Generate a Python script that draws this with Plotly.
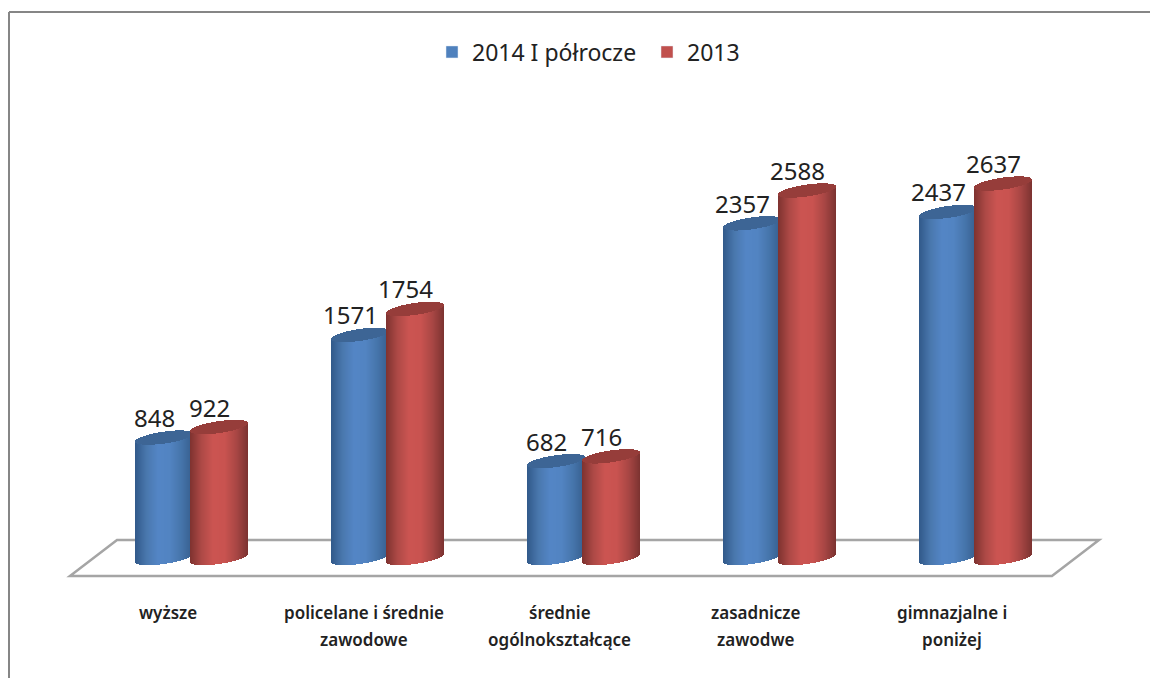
"""Grouped cylinder bars: education level of the registered, 2014 H1 vs 2013."""
import numpy as np
import plotly.graph_objects as go

CATEGORIES = [
    ["wyższe"],
    ["policelane i średnie", "zawodowe"],
    ["średnie", "ogólnokształcące"],
    ["zasadnicze", "zawodwe"],
    ["gimnazjalne i", "poniżej"],
]
SERIES_2014 = [848, 1571, 682, 2357, 2437]
SERIES_2013 = [922, 1754, 716, 2588, 2637]
NAME_2014 = "2014 I półrocze"
NAME_2013 = "2013"

BLUE = "#4f81bd"
RED = "#c0504d"
BLUE_CAP = "#3d6595"
RED_CAP = "#963d3a"
BLUE_STOPS = ["#31598a", "#4a78ae", "#5486c6", "#5284c2", "#4675ab", "#365d8c"]
RED_STOPS = ["#7e3230", "#ae4a47", "#cc5552", "#c95350", "#a94745", "#7c3331"]
FRAME = "#868686"
FLOOR = "#a5a5a5"
TEXT = "#222222"
FONT = "Noto Sans"

WIDTH, HEIGHT = 1150, 678
PX_PER_CAT = 196.0    # px between group centres
PX_PER_VAL = 0.142    # px per unit of value
ZERO_PX = 558.0       # y pixel of value 0
FIRST_PX = 191.5      # x pixel of first group centre


def shade(stops, u):
    pos = np.linspace(-1, 1, len(stops))
    rgb = [[int(s[i:i + 2], 16) for i in (1, 3, 5)] for s in stops]
    return "rgb(%d,%d,%d)" % tuple(
        np.interp(u, pos, [c[k] for c in rgb]) for k in range(3)
    )


def cylinder_traces(values, side, stops, cap_color):
    """Body and cap of each cylinder as 1px strips on the value axis."""
    half = 29
    offset = 27.5 * side / PX_PER_CAT
    arc = 6.0 / PX_PER_VAL
    tilt = 4.0 / PX_PER_VAL
    xs, body_base, body_h, cap_base, cap_h, colors = [], [], [], [], [], []
    for i, v in enumerate(values):
        for px in np.arange(-half + 0.5, half):
            u = px / half
            bow = arc * np.sqrt(1 - u * u)
            lean = tilt * u
            xs.append(i + offset + px / PX_PER_CAT)
            body_base.append(lean - bow)
            body_h.append(v)
            cap_base.append(v + lean - bow)
            cap_h.append(2 * bow)
            colors.append(shade(stops, u))
    strip = 1.0 / PX_PER_CAT
    body = go.Bar(x=xs, y=body_h, base=body_base, width=strip, showlegend=False,
                  marker=dict(color=colors, line_width=0), hoverinfo="skip")
    cap = go.Bar(x=xs, y=cap_h, base=cap_base, width=strip, showlegend=False,
                 marker=dict(color=cap_color, line_width=0), hoverinfo="skip")
    return [body, cap]


fig = go.Figure()

# legend-only entries, the strips themselves carry a gradient
fig.add_trace(go.Bar(x=[None], y=[None], name=NAME_2014, marker_color=BLUE))
fig.add_trace(go.Bar(x=[None], y=[None], name=NAME_2013, marker_color=RED))
fig.add_traces(cylinder_traces(SERIES_2014, -1, BLUE_STOPS, BLUE_CAP))
fig.add_traces(cylinder_traces(SERIES_2013, 1, RED_STOPS, RED_CAP))

# floor of the 3D box, drawn under the bars
depth = 18 / PX_PER_VAL
fig.add_shape(
    type="path", layer="below",
    path=f"M -0.62 {-depth} L 4.39 {-depth} L 4.63 {depth} L -0.38 {depth} Z",
    line=dict(color=FLOOR, width=2.5),
)

# chart frame, open on the right and at the bottom
fig.add_shape(type="line", xref="paper", yref="paper",
              x0=9 / WIDTH, x1=9 / WIDTH, y0=0, y1=1 - 12 / HEIGHT,
              line=dict(color=FRAME, width=2))
fig.add_shape(type="line", xref="paper", yref="paper",
              x0=9 / WIDTH, x1=1, y0=1 - 12 / HEIGHT, y1=1 - 12 / HEIGHT,
              line=dict(color=FRAME, width=2))

# value labels
for side, values in ((-1, SERIES_2014), (1, SERIES_2013)):
    for i, v in enumerate(values):
        fig.add_annotation(
            x=i + 27.5 * side / PX_PER_CAT, y=v, text=str(v), showarrow=False,
            xshift=-10, yshift=20, font=dict(family=FONT, size=24, color=TEXT),
        )

# category labels, one annotation per line for the wide line spacing
for i, lines in enumerate(CATEGORIES):
    for n, line in enumerate(lines):
        fig.add_annotation(
            x=i, xshift=-24, y=(ZERO_PX - (612.5 + 27 * n)) / PX_PER_VAL, text=line,
            showarrow=False, font=dict(family=FONT, size=17, weight=600, color=TEXT),
        )

fig.update_layout(
    width=WIDTH, height=HEIGHT,
    margin=dict(l=0, r=0, t=0, b=0),
    paper_bgcolor="white", plot_bgcolor="white",
    barmode="overlay", bargap=0,
    font=dict(family=FONT, color=TEXT),
    legend=dict(
        orientation="h",
        x=432 / WIDTH, xanchor="left", y=1 - 52 / HEIGHT, yanchor="middle",
        font=dict(family=FONT, size=23, color=TEXT), traceorder="normal",
        entrywidth=170, entrywidthmode="pixels",
        bgcolor="rgba(0,0,0,0)",
    ),
    xaxis=dict(visible=False,
               range=[-FIRST_PX / PX_PER_CAT, (WIDTH - FIRST_PX) / PX_PER_CAT]),
    yaxis=dict(visible=False,
               range=[(ZERO_PX - HEIGHT) / PX_PER_VAL, ZERO_PX / PX_PER_VAL]),
)

fig.write_html("out.html", config=dict(displayModeBar=False),
               post_script="document.body.style.margin='0';")
